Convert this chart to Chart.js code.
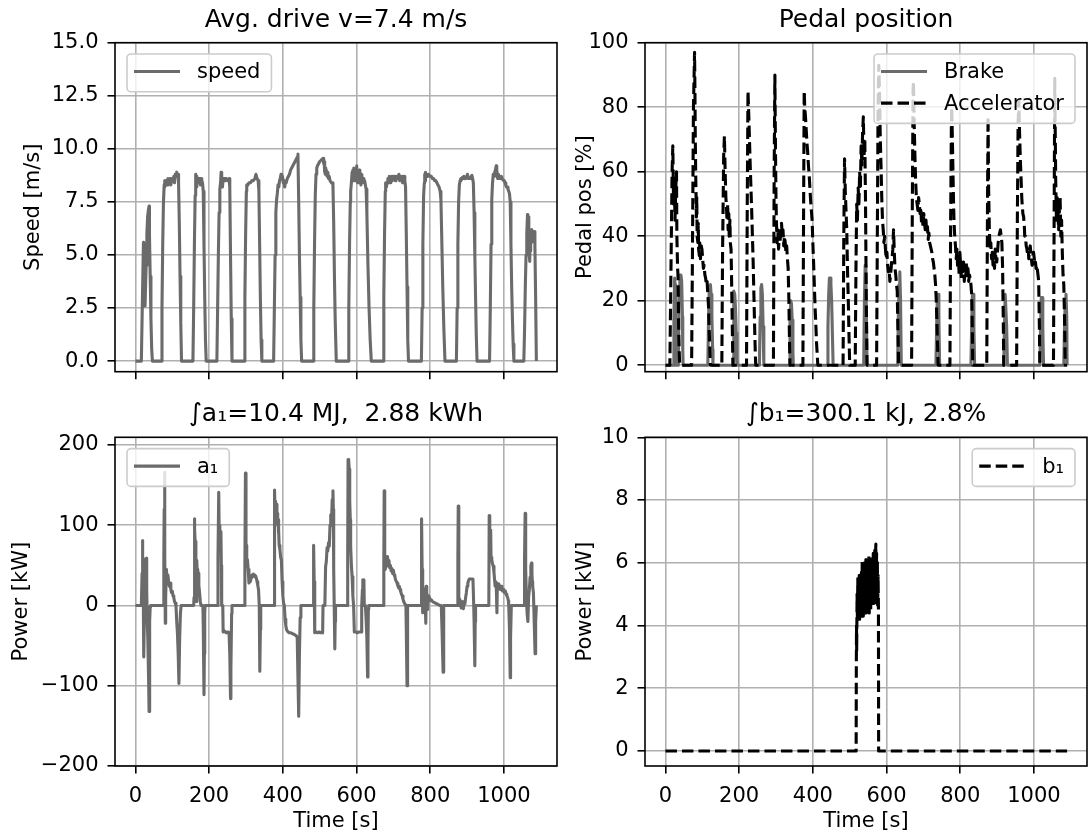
<!DOCTYPE html>
<html><head><meta charset="utf-8">
<script src="https://cdn.jsdelivr.net/npm/chart.js@4.4.0/dist/chart.umd.min.js"></script>
<style>
html,body{margin:0;padding:0;background:#fff;width:1089px;height:837px;overflow:hidden;}
canvas{position:absolute;}
</style></head><body>
<canvas id="c1" width="560" height="400" style="left:0px;top:0px;width:560px;height:400px"></canvas>
<canvas id="c2" width="529" height="400" style="left:560px;top:0px;width:529px;height:400px"></canvas>
<canvas id="c3" width="560" height="437" style="left:0px;top:400px;width:560px;height:437px"></canvas>
<canvas id="c4" width="529" height="437" style="left:560px;top:400px;width:529px;height:437px"></canvas>
<script>
// ---------------- data (time [s], value) ----------------
const timeTicks = [0, 200, 400, 600, 800, 1000];
const speedTicks = [0, 2.5, 5, 7.5, 10, 12.5, 15];
const pedalTicks = [0, 20, 40, 60, 80, 100];
const powerTicks = [-200, -100, 0, 100, 200];
const b1Ticks = [0, 2, 4, 6, 8, 10];

const titles = ['Avg. drive v=7.4 m/s', 'Pedal position', '\u222Ba\u2081=10.4 MJ,  2.88 kWh', '\u222Bb\u2081=300.1 kJ, 2.8%'];
const seriesLabels = ['speed', 'Brake', 'Accelerator', 'a\u2081', 'b\u2081'];

const speedPts = [
[0,0],[16,0],[19,3],[21.7,5.6],[22.5,3.0],[23.5,5.5],[24.5,2.6],[25.3,4.5],[26,2.6],[27,2.6],[29,4.5],[31,6.0],[33,6.8],[35,7.1],[37,7.3],[38,6.0],[40,4.0],[42,2.0],[44,0.6],[46,0],
[70,0],[72,2.5],[74,5.5],[76,7.5],[78,8.3],[79,8.2],[80,8.5],[82,8.4],[84,8.5],[86,8.3],[88,8.6],[90,8.5],[92,8.5],[94,8.6],[96,8.3],[98,8.5],[100,8.6],[102,8.5],[104,8.7],[106,8.4],[108,8.8],[110,8.7],[112,8.9],[114,8.7],[116,8.8],[117,8.4],[119,6.5],[121,4.0],[123,1.8],[125,0],
[156,0],[158,2.5],[160,5.5],[162,7.8],[163.5,8.8],[165,8.6],[166,8.2],[167,8.7],[168,8.4],[170,8.6],[172,8.5],[174,8.6],[176,8.3],[178,8.6],[180,8.5],[182,8.4],[184,8.0],[186,5.5],[188,3.0],[190,1.0],[192,0],
[221,0],[223,2.5],[225,5.0],[227,7.0],[229,8.1],[231,8.4],[232.5,8.9],[234,8.3],[235,8.6],[236,8.2],[238,8.6],[240,8.5],[242,8.6],[244,8.5],[246,8.6],[250,8.5],[254,8.6],[256,8.2],[258,5.0],[260,2.0],[262,0],
[295,0],[297,3.0],[299,6.0],[301,8.0],[302,8.3],[305,8.3],[308,8.4],[312,8.4],[316,8.5],[320,8.5],[324,8.6],[327,8.8],[330,8.6],[333,8.5],[335,8.0],[337,5.5],[339,3.0],[341,1.0],[343,0],
[375,0],[377,2.5],[379,5.0],[381,7.0],[383,7.6],[385,7.9],[387,8.3],[389,8.2],[391,8.5],[393,8.6],[395,8.8],[397,8.6],[399,8.7],[401,8.4],[403,8.5],[405,8.2],[407,8.4],[409,8.4],[412,8.6],[415,8.7],[418,8.8],[421,9.0],[424,9.1],[427,9.2],[430,9.3],[433,9.4],[436,9.5],[439,9.6],[441,9.75],[443,7.5],[445,5.0],[447,3.0],[449,1.0],[451,0],
[482,0],[484,2.5],[486,5.5],[488,7.8],[490,8.8],[492,9.1],[494,9.2],[497,9.3],[500,9.4],[503,9.45],[506,9.5],[509,9.55],[511,9.3],[512,9.4],[513,8.9],[514,9.2],[515,8.8],[516,9.1],[517,8.8],[518,9.0],[520,8.7],[522,8.9],[524,8.6],[526,8.7],[528,8.5],[530,8.5],[532,8.4],[534,8.4],[536,8.3],[538,6.5],[540,4.0],[542,2.0],[545,0],
[577,0],[579,2.5],[581,5.5],[583,7.5],[584,8.0],[586,8.4],[588,8.9],[590,9.0],[591,8.5],[592,9.1],[593,8.6],[594,8.9],[596,8.5],[598,9.1],[599,8.6],[600,9.2],[601,8.7],[602,9.0],[603,8.4],[604,8.9],[606,8.4],[608,9.0],[609,8.4],[610,8.8],[612,8.3],[614,8.8],[616,8.5],[618,8.6],[620,8.4],[622,8.5],[624,8.3],[626,8.1],[628,7.0],[631,4.5],[634,2.5],[637,1.0],[640,0],
[672,0],[674,3.0],[676,6.0],[678,8.0],[679,8.4],[681,8.2],[683,8.4],[685,8.6],[687,8.5],[689,8.7],[691,8.4],[693,8.6],[695,8.7],[697,8.5],[699,8.7],[701,8.6],[703,8.7],[705,8.5],[707,8.7],[709,8.6],[711,8.7],[713,8.6],[715,8.8],[717,8.5],[719,8.7],[721,8.6],[723,8.7],[725,8.4],[727,8.6],[729,8.7],[731,8.5],[733,8.2],[735,6.0],[737,3.5],[739,1.0],[741,0],
[776,0],[778,2.5],[780,5.5],[782,7.8],[784,8.4],[785,8.8],[786,8.5],[787,8.9],[789,8.7],[791,8.8],[793,8.7],[795,8.8],[797,8.75],[800,8.7],[803,8.7],[806,8.6],[809,8.6],[812,8.5],[815,8.5],[818,8.4],[821,8.3],[824,8.2],[827,8.0],[829,7.6],[831,6.0],[834,3.5],[837,1.5],[840,0],
[871,0],[873,2.5],[875,5.5],[877,7.5],[879,8.3],[881,8.5],[883,8.6],[885,8.55],[887,8.65],[889,8.6],[891,8.7],[893,8.6],[895,8.65],[897,8.6],[899,8.7],[901,8.8],[903,8.6],[905,8.65],[907,8.6],[909,8.6],[911,8.7],[913,8.75],[915,8.6],[917,8.4],[919,7.0],[921,5.0],[923,3.0],[925,1.2],[927,0],
[961,0],[963,2.5],[965,5.5],[967,7.6],[969,8.4],[971,8.8],[973,8.7],[975,8.9],[977,9.0],[979,9.2],[980,8.7],[981,9.0],[983,8.6],[985,8.8],[987,8.6],[989,8.7],[991,8.6],[993,8.7],[995,8.6],[997,8.6],[999,8.5],[1001,8.5],[1003,8.4],[1005,8.3],[1007,8.2],[1009,8.2],[1011,8.1],[1013,8.0],[1015,7.9],[1017,7.5],[1019,5.5],[1021,3.5],[1023,2.0],[1025,0.8],[1027,0],
[1054,0],[1056,1.5],[1058,3.5],[1060,5.0],[1062,6.0],[1064,6.9],[1065,6.5],[1066,6.8],[1067,5.8],[1068,6.3],[1069,5.0],[1070,4.7],[1071,5.8],[1072,5.2],[1073,6.1],[1074,5.6],[1075,6.2],[1076,6.1],[1078,5.9],[1080,6.0],[1082,6.1],[1084,5.5],[1086,3.0],[1088,0]
];

const brakePts = [
[0,0],[21,0],[23,15],[25,27],[26,25],[27,10],[28,0],
[35,0],[37,22],[39,28],[42,28],[44,26],[46,15],[47,5],[48,0],
[115,0],[117,15],[119,24],[122,25],[124,22],[126,15],[128,5],[129,0],
[184,0],[185,15],[186,23],[188,22],[190,18],[192,10],[194,2],[195,0],
[255,0],[257,15],[259,24],[261,25],[263,22],[265,12],[267,0],
[336,0],[338,14],[340,20],[342,19],[344,14],[346,4],[347,0],
[439,0],[441,12],[443,22],[445,27],[447,27],[449,25],[451,20],[453,10],[455,0],
[538,0],[540,20],[542,31],[544,28],[546,10],[547,0],
[630,0],[632,15],[634,25],[636,29],[638,20],[640,0],
[734,0],[736,12],[738,22],[740,22],[742,15],[744,0],
[829,0],[831,12],[833,22],[835,22],[837,12],[839,0],
[918,0],[920,12],[922,22],[924,22],[926,12],[928,0],
[1016,0],[1018,12],[1020,21],[1022,21],[1024,12],[1026,0],
[1081,0],[1083,12],[1085,20],[1087,22],[1089,15],[1090,0]
];

const accelPts = [
[0,0],[12,0],[15,30],[18,60],[20,68],[22,50],[24,58],[26,45],[28,55],[30,60],[31,40],[32,35],[33,30],[34,28],[35,20],[36,10],[38,2],[39,0],
[71,0],[73,30],[76,80],[79,97],[80,85],[81,70],[82,60],[84,46],[85,52],[86,40],[88,38],[89,44],[90,36],[92,34],[93,38],[95,33],[97,37],[99,36],[101,33],[103,30],[105,31],[107,28],[109,27],[111,25],[113,26],[115,22],[117,18],[119,10],[121,3],[122,0],
[153,0],[155,35],[158,65],[160,71],[162,60],[164,52],[166,48],[167,45],[169,50],[170,42],[172,47],[173,40],[175,45],[176,38],[178,36],[179,30],[181,15],[183,0],
[220,0],[222,50],[224,85],[226,78],[228,70],[230,62],[232,55],[234,48],[236,40],[238,32],[240,22],[242,12],[244,3],[245,0],
[293,0],[295,60],[297,90],[298,75],[299,62],[300,52],[301,45],[303,38],[305,42],[307,36],[309,41],[311,38],[313,43],[315,44],[317,40],[319,42],[321,37],[323,40],[325,38],[327,35],[329,37],[331,33],[333,30],[335,20],[337,5],[338,0],
[373,0],[375,50],[376.5,85],[378,80],[380,77],[382,73],[384,69],[386,66],[388,62],[390,59],[392,55],[394,51],[396,48],[398,45],[400,38],[402,32],[404,25],[406,18],[408,13],[410,7],[412,3],[413.5,0],
[482,0],[484,40],[486,64],[488,54],[490,48],[492,42],[494,30],[496,21],[498,10],[500,0],
[515,0],[517,30],[519,50],[521,45],[523,55],[525,50],[527,60],[529,55],[531,68],[533,62],[535,72],[537,77],[539,65],[541,70],[543,50],[545,20],[547,0],
[573,0],[575,40],[577,80],[579,93],[581,85],[583,70],[585,62],[587,52],[589,45],[591,42],[593,38],[595,40],[597,36],[599,33],[601,35],[603,31],[605,29],[607,30],[609,26],[611,28],[613,31],[615,33],[617,36],[619,42],[621,35],[623,30],[625,28],[627,25],[629,23],[631,10],[633,0],
[668,0],[670,50],[672,85],[673,88],[675,75],[677,65],[679,57],[681,52],[683,50],[685,48],[687,52],[689,50],[691,47],[693,49],[695,44],[697,46],[699,43],[701,47],[703,44],[705,42],[707,45],[709,41],[711,43],[713,39],[715,41],[717,38],[719,37],[721,36],[723,35],[725,33],[727,32],[729,30],[731,28],[733,25],[735,20],[737,12],[739,4],[740,0],
[772,0],[774,45],[776,75],[777,80],[779,68],[781,55],[783,45],[785,40],[787,37],[789,33],[791,36],[793,30],[795,34],[797,28],[799,35],[801,31],[803,27],[805,33],[807,29],[809,32],[811,26],[813,31],[815,28],[817,32],[819,27],[821,30],[823,26],[825,28],[827,27],[829,25],[831,22],[833,10],[834,0],
[872,0],[874,50],[875.5,77],[877,55],[879,42],[881,36],[883,38],[885,33],[887,35],[889,31],[891,33],[893,30],[895,36],[897,33],[899,32],[901,35],[903,38],[905,40],[907,41],[909,42],[911,40],[913,38],[915,30],[917,12],[918,0],
[953,0],[955,45],[957,75],[959,82],[961,72],[963,64],[965,58],[967,52],[968,50],[970,47],[972,46],[974,43],[975,40],[977,40],[979,37],[981,36],[983,34],[985,35],[986,33],[988,36],[990,37],[992,34],[994,32],[995,31],[997,34],[999,35],[1001,33],[1003,31],[1004,32],[1006,30],[1008,31],[1010,29],[1012,27],[1013,25],[1015,10],[1016,0],
[1053,0],[1055,50],[1056.5,89],[1058,70],[1059,58],[1061,45],[1063,52],[1065,48],[1067,42],[1069,48],[1071,52],[1073,40],[1075,45],[1077,35],[1079,28],[1081,25],[1083,15],[1085,0],[1090,0]
];

const a1Pts = [
[0,0],[16,0],[18,40],[19,81],[20,60],[21,30],[22,-20],[23,-64],[24,-20],[25,30],[26,58],[27,50],[28,58],[29,56],[30,59],[31,20],[32,-17],[33,-2],[34,-40],[36,-100],[37,-132],[38,-80],[39,-20],[40,-2],[41,0],
[75,0],[77,60],[78,120],[79,166],[80,60],[81,-22],[82,10],[84,45],[86,32],[88,38],[90,30],[92,24],[94,28],[96,20],[98,16],[100,18],[102,12],[104,10],[106,5],[108,3],[110,0],[112,-20],[114,-35],[116,-60],[118,-97],[120,-40],[122,-10],[124,0],
[158,0],[159,10],[160,108],[161,95],[162,80],[164,60],[165,5],[166,50],[167,56],[168,35],[169,45],[170,40],[172,25],[174,16],[176,5],[178,0],[183,0],[184,-25],[186,-111],[187,-60],[188,-10],[189,0],
[223,0],[224,60],[226,141],[227,100],[229,93],[231,90],[232,92],[233,50],[234,0],[237,0],[238,-33],[240,-33],[242,-32],[244,-33],[246,-34],[248,-33],[250,-33],[252,-33],[254,-34],[256,-60],[258,-116],[259,-80],[261,-10],[262,0],
[296,0],[297,50],[298.5,165],[300,60],[301,75],[302,55],[304,57],[306,45],[308,28],[310,32],[312,30],[314,35],[316,38],[318,37],[320,39],[322,38],[324,36],[326,37],[328,34],[330,30],[332,25],[334,20],[336,0],[337,-40],[338,-82],[339,-30],[340,0],
[376,0],[377,60],[378,144],[379,110],[380,130],[381,120],[382,126],[384,105],[385,115],[386,100],[387,107],[388,90],[389,95],[390,75],[392,70],[394,60],[396,57],[398,30],[400,12],[402,3],[404,0],[406,-17],[408,-25],[410,-30],[414,-33],[418,-34],[422,-34],[426,-35],[430,-36],[434,-37],[437,-38],[439,-40],[441,-90],[443,-138],[445,-60],[447,-15],[449,0],
[482,0],[483,40],[484,75],[485,30],[486,-10],[487,-34],[490,-33],[494,-34],[498,-33],[502,-34],[506,-33],[508,-34],[509,0],[514,0],[516,48],[518,55],[520,72],[522,68],[524,78],[526,74],[528,100],[530,113],[532,105],[534,132],[536,143],[537,120],[538,45],[540,-20],[541,-54],[542,-20],[543,0],
[575,0],[576,60],[577,182],[578,175],[579,182],[580,170],[581,169],[582,130],[583,107],[584,74],[586,50],[588,36],[590,12],[592,0],[594,-33],[598,-33],[602,-34],[606,-33],[610,-33],[613,-33],[614,0],[616,20],[617,32],[619,28],[620,32],[621,0],[624,0],[626,-17],[628,-40],[630,-89],[631,-50],[632,-5],[633,0],
[673,0],[674,50],[675,143],[676,80],[677,53],[678,45],[680,55],[682,49],[684,61],[686,52],[688,56],[690,47],[692,50],[694,43],[696,46],[698,40],[700,44],[702,38],[704,36],[706,32],[708,30],[710,28],[712,25],[714,22],[716,24],[718,20],[720,17],[722,14],[724,12],[726,8],[728,5],[730,3],[732,1],[734,0],[735,-30],[737,-100],[738,-40],[739,0],
[775,0],[776,50],[777,108],[778,45],[779,-9],[780,24],[782,15],[784,20],[786,10],[788,-22],[789,24],[790,12],[791,18],[793,-5],[794,12],[796,8],[798,10],[800,6],[803,7],[806,5],[810,4],[814,3],[818,2],[822,1],[826,0],[830,0],[832,-30],[835,-83],[836,-30],[837,0],
[874,0],[875,60],[876,124],[877,45],[878,0],[880,8],[882,3],[884,-3],[886,5],[888,-3],[890,-4],[892,5],[894,2],[896,10],[898,16],[900,24],[902,28],[904,31],[906,33],[910,33],[914,33],[916,32],[918,0],[919,-20],[921,-75],[922,-20],[923,0],
[959,0],[960,112],[961,100],[962,94],[963,66],[964,94],[965,60],[967,57],[969,52],[971,49],[973,41],[975,30],[976,24],[977,30],[979,28],[981,-9],[982,25],[984,27],[986,26],[988,25],[990,20],[992,22],[994,24],[996,18],[998,20],[1000,17],[1002,16],[1004,18],[1006,14],[1008,12],[1010,10],[1012,6],[1013,0],[1015,-30],[1017,-90],[1018,-40],[1020,0],
[1055,0],[1056,60],[1057.5,115],[1059,45],[1061,8],[1063,-10],[1065,-20],[1067,10],[1069,20],[1071,35],[1073,49],[1075,53],[1076,40],[1077,30],[1078,24],[1080,16],[1082,-17],[1084.5,-60],[1086,-20],[1088,0]
];

const b1Pts = [
[0,0],[517.5,0],[518,2.7],[518.5,4.0],[519,3.2],[520,5.0],[521,4.2],[522,5.5],[523,4.3],[524,5.4],[525,4.4],[526,5.6],[527,4.2],[528,5.3],[529,4.5],[530,5.6],[531,4.3],[532,5.7],[533,4.4],[534,6.1],[535,4.5],[536,5.9],[537,4.3],[538,5.8],[539,4.6],[540,6.0],[541,4.4],[542,5.7],[543,4.5],[544,6.1],[545,4.4],[546,5.8],[547,4.7],[548,6.0],[549,4.5],[550,5.9],[551,4.6],[552,6.2],[553,4.4],[554,5.9],[555,4.7],[556,6.1],[557,4.5],[558,6.0],[559,4.8],[560,6.2],[561,4.6],[562,6.1],[563,4.9],[564,6.3],[565,4.7],[566,6.0],[567,4.8],[568,6.4],[569,4.6],[570,6.2],[571,6.6],[572,4.9],[573,6.3],[574,4.8],[575,6.1],[576,4.6],[577,5.6],[578,4.6],[578.5,0],[1090,0]
];

// ---------------- drawing ----------------
const FONT = "'DejaVu Sans', 'Liberation Sans', sans-serif";
const GRAY = '#6b6b6b';
const toXY = pts => pts.map(p => ({x: p[0], y: p[1]}));

const frame = {
  id: 'mplBox',
  afterDatasetsDraw(chart, args, opts) {
    const ctx = chart.ctx, a = chart.chartArea;
    ctx.save();
    ctx.setLineDash([]);
    ctx.strokeStyle = '#000'; ctx.lineWidth = 1.6;
    ctx.strokeRect(a.left, a.top, a.right - a.left, a.bottom - a.top);
    const ds = chart.data.datasets;
    ctx.font = "21px " + FONT;
    let tw = 0;
    ds.forEach(d => { tw = Math.max(tw, ctx.measureText(d.label).width); });
    const w = 81 + tw, h = 16.6 + ds.length * 21.2 + (ds.length - 1) * 10.4;
    const x0 = opts.loc === 'right' ? a.right - 12 - w : a.left + 12;
    const y0 = a.top + 11.3;
    ctx.beginPath();
    ctx.roundRect(x0, y0, w, h, 4);
    ctx.fillStyle = 'rgba(255,255,255,0.8)'; ctx.fill();
    ctx.strokeStyle = '#cccccc'; ctx.lineWidth = 1.6; ctx.stroke();
    ds.forEach((d, i) => {
      const yc = y0 + 17.5 + i * 31.6;
      ctx.beginPath();
      ctx.setLineDash(d.borderDash || []);
      ctx.strokeStyle = d.borderColor; ctx.lineWidth = d.borderWidth; ctx.lineCap = 'butt';
      ctx.moveTo(x0 + 7, yc); ctx.lineTo(x0 + 53, yc); ctx.stroke();
      ctx.setLineDash([]);
      ctx.fillStyle = '#000'; ctx.textBaseline = 'middle'; ctx.textAlign = 'left';
      ctx.fillText(d.label, x0 + 70, yc + 1);
    });
    ctx.restore();
  }
};

function tickFont() { return {family: FONT, size: 21}; }
function gridOpts() { return {color: '#b0b0b0', lineWidth: 1.6, tickColor: '#000', tickWidth: 1.6, tickLength: 7.5, drawTicks: true}; }

function makeChart(id, p) {
  const lastRow = p.xHeight > 50;
  new Chart(document.getElementById(id), {
    type: 'line',
    data: {datasets: p.datasets},
    plugins: [frame],
    options: {
      responsive: false, animation: false, devicePixelRatio: 1,
      events: [],
      layout: {padding: {left: 0, right: p.padRight, top: p.padTop, bottom: 0}},
      elements: {point: {radius: 0}, line: {tension: 0}},
      plugins: {
        legend: {display: false}, tooltip: {enabled: false},
        title: {display: true, text: p.title, fullSize: false, color: '#000',
          font: {family: FONT, size: 25, weight: 'normal', lineHeight: 1.2},
          padding: {top: 0, bottom: p.titleGap}},
        mplBox: {loc: p.legendLoc}
      },
      scales: {
        x: {
          type: 'linear', min: -55.5, max: 1144,
          afterFit: s => { s.height = p.xHeight; },
          afterBuildTicks: s => { s.ticks = timeTicks.map(v => ({value: v})); },
          ticks: {autoSkip: false, maxRotation: 0, minRotation: 0, padding: 10, color: '#000', font: tickFont(),
            callback: v => lastRow ? String(v) : ''},
          grid: gridOpts(), border: {display: false},
          title: {display: lastRow, text: 'Time [s]', color: '#000', font: tickFont(), padding: {top: 0, bottom: 2.4}}
        },
        y: {
          type: 'linear', min: p.ymin, max: p.ymax,
          afterFit: s => { s.width = p.yWidth; },
          afterBuildTicks: s => { s.ticks = p.yTicks.map(v => ({value: v})); },
          ticks: {autoSkip: false, padding: 9, color: '#000', font: tickFont(), callback: p.yFmt},
          grid: gridOpts(), border: {display: false},
          title: {display: true, text: p.yTitle, color: '#000', font: tickFont(), padding: {top: p.yTitlePad, bottom: 0}}
        }
      }
    }
  });
}

const intFmt = v => (v < 0 ? '\u2212' + Math.abs(v) : String(v));

makeChart('c1', {
  title: titles[0], padTop: 5.5, titleGap: 7.2, padRight: 3, xHeight: 28.3, yWidth: 115,
  ymin: -0.5, ymax: 15, yTicks: speedTicks, yFmt: v => v.toFixed(1), yTitle: 'Speed [m/s]', yTitlePad: 20.5,
  legendLoc: 'left',
  datasets: [{label: seriesLabels[0], data: toXY(speedPts), borderColor: GRAY, borderWidth: 3.1, borderJoinStyle: 'round', fill: false}]
});

makeChart('c2', {
  title: titles[1], padTop: 5.5, titleGap: 7.2, padRight: 2, xHeight: 28.3, yWidth: 85,
  ymin: -2, ymax: 100, yTicks: pedalTicks, yFmt: intFmt, yTitle: 'Pedal pos [%]', yTitlePad: 12.5,
  legendLoc: 'right',
  datasets: [
    {label: seriesLabels[1], data: toXY(brakePts), borderColor: GRAY, borderWidth: 3.1, borderJoinStyle: 'round', fill: false, order: 1},
    {label: seriesLabels[2], data: toXY(accelPts), borderColor: '#000', borderWidth: 3.1, borderDash: [11.5, 5], borderJoinStyle: 'round', fill: false, order: 0}
  ]
});

makeChart('c3', {
  title: titles[2], padTop: -0.5, titleGap: 7.8, padRight: 3, xHeight: 71, yWidth: 115,
  ymin: -200, ymax: 209.6, yTicks: powerTicks, yFmt: intFmt, yTitle: 'Power [kW]', yTitlePad: 9.4,
  legendLoc: 'left',
  datasets: [{label: seriesLabels[3], data: toXY(a1Pts), borderColor: GRAY, borderWidth: 3.1, borderJoinStyle: 'round', fill: false}]
});

makeChart('c4', {
  title: titles[3], padTop: -0.5, titleGap: 7.8, padRight: 2, xHeight: 71, yWidth: 85,
  ymin: -0.48, ymax: 10, yTicks: b1Ticks, yFmt: intFmt, yTitle: 'Power [kW]', yTitlePad: 12.5,
  legendLoc: 'right',
  datasets: [{label: seriesLabels[4], data: toXY(b1Pts), borderColor: '#000', borderWidth: 3.1, borderDash: [11.5, 5], borderJoinStyle: 'round', fill: false}]
});
</script>
</body></html>
